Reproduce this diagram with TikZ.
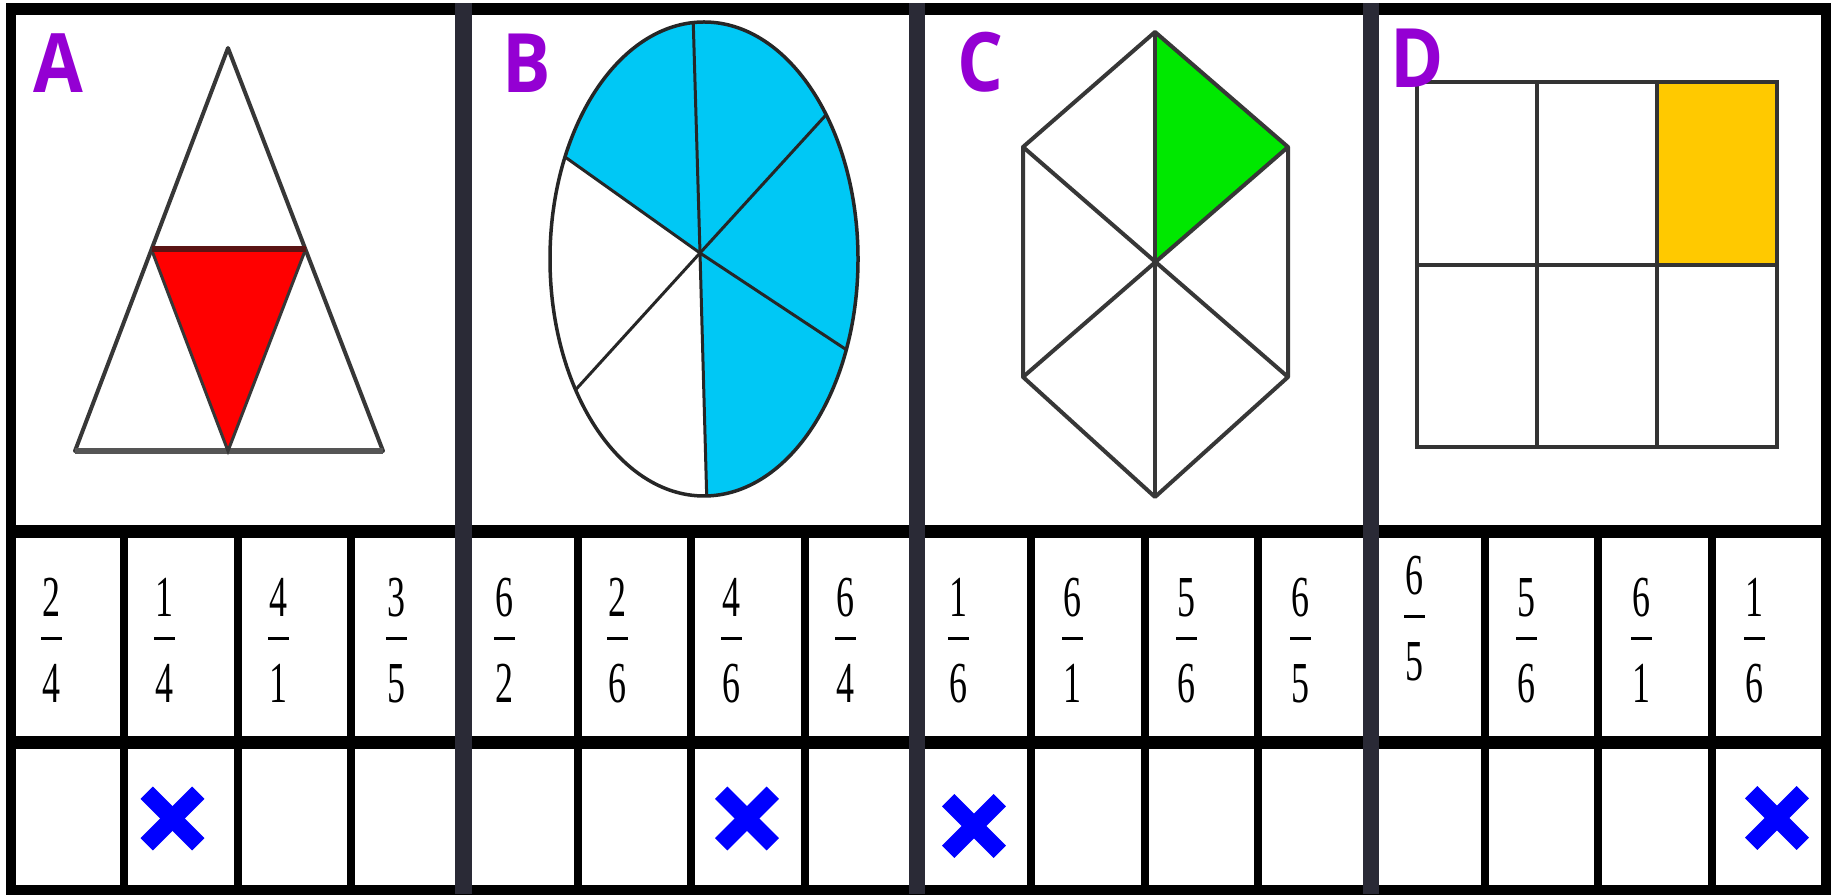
\documentclass[tikz,border=0pt]{standalone}
\usepackage{fontspec}
\setmainfont{Liberation Serif}
\newfontfamily\letfont{Open Sans}
\definecolor{lettc}{RGB}{148,0,211}
\definecolor{divc}{RGB}{42,42,54}
\definecolor{skyfill}{RGB}{0,200,245}
\definecolor{greenfill}{RGB}{0,232,0}
\definecolor{yellowfill}{RGB}{255,201,0}
\definecolor{redfill}{RGB}{255,0,0}
\definecolor{shapeline}{RGB}{55,55,55}
\definecolor{redline}{RGB}{90,20,20}
\definecolor{xblue}{RGB}{0,0,255}
\newcommand\myfrac[5]{%
  \node[digit] (#1n) at (#2,{277+#3}) {\scalebox{0.62}[1]{#4}};
  \node[fbar] (#1b) at (#2,{255.5+#3}) {};
  \node[digit] (#1d) at (#2,{191+#3}) {\scalebox{0.62}[1]{#5}};
}
\newcommand\myxmark[3]{%
  \coordinate (#1) at (#2,#3);
  \draw[xline] (#1) ++(-25.8,-25.8) -- ++(51.6,51.6);
  \draw[xline] (#1) ++(-25.8,25.8) -- ++(51.6,-51.6);
}
\begin{document}
\begin{tikzpicture}[x=1pt,y=1pt,
  letter/.style={text=lettc, font=\letfont\bfseries\fontsize{82}{82}\selectfont, inner sep=0pt, anchor=base},
  digit/.style={font=\fontsize{58}{58}\selectfont, inner sep=0pt, anchor=base},
  fbar/.style={fill=black, inner sep=0pt, minimum width=21pt, minimum height=2.2pt},
  outline/.style={draw=shapeline, line width=4pt, line join=round},
  ellline/.style={draw=black!85, line width=3.5pt},
  gridline/.style={draw=black!80, line width=4.5pt},
  xline/.style={draw=xblue, line width=17.4pt, line cap=butt},
  band/.style={draw=black, line width=13pt},
  subdiv/.style={draw=black, line width=8pt},
  paneldiv/.style={draw=divc, line width=16.5pt}
]
\useasboundingbox (0,0) rectangle (1833,894);
\fill[white] (0,0) rectangle (1833,894);

% ---------- Panel A: triangle ----------
\coordinate (Aa) at (228,846);
\coordinate (Ab) at (75,443);
\coordinate (Ac) at (383,443);
\coordinate (Am1) at (151.5,644.5);
\coordinate (Am2) at (305.5,644.5);
\coordinate (Am3) at (228,443);
\fill[redfill] (Am1) -- (Am2) -- (Am3) -- cycle;
\draw[outline] (Aa) -- (Ab) -- (Ac) -- cycle;
\draw[draw=shapeline!85, line width=6pt] (Ab) -- (Ac);
\draw[draw=shapeline, line width=3pt] (Am1) -- (Am3) -- (Am2);
\draw[draw=redline, line width=6pt] (Am1) -- (Am2);

% ---------- Panel B: ellipse ----------
\coordinate (Bc) at (704,635);
\coordinate (Bh) at (700,641);
\path (Bc) ++(94:154pt and 237pt) coordinate (Be1);
\path (Bc) ++(37.5:154pt and 237pt) coordinate (Be2);
\path (Bc) ++(-22.5:154pt and 237pt) coordinate (Be3);
\path (Bc) ++(-89:154pt and 237pt) coordinate (Be4);
\path (Bc) ++(213.5:154pt and 237pt) coordinate (Be5);
\path (Bc) ++(154.5:154pt and 237pt) coordinate (Be6);
\fill[skyfill] (Bh) -- (Be4) arc[start angle=-89, end angle=154.5, x radius=154pt, y radius=237pt] -- cycle;
\draw[ellline] (Bc) ellipse [x radius=154pt, y radius=237pt];
\foreach \e in {Be1,Be2,Be3,Be4,Be5,Be6} \draw[draw=black!85, line width=3pt] (Bh) -- (\e);

% ---------- Panel C: hexagon ----------
\coordinate (Ct) at (1155,862);
\coordinate (Cur) at (1288,747);
\coordinate (Clr) at (1288,517);
\coordinate (Cb) at (1155,397);
\coordinate (Cll) at (1023,517);
\coordinate (Cul) at (1023,747);
\coordinate (Cc) at (1155,629.5);
\fill[greenfill] (Ct) -- (Cur) -- (Cc) -- cycle;
\draw[outline] (Ct) -- (Cur) -- (Clr) -- (Cb) -- (Cll) -- (Cul) -- cycle;
\draw[outline] (Ct) -- (Cb);
\draw[outline] (Cul) -- (Clr);
\draw[outline] (Cur) -- (Cll);

% ---------- Panel D: grid ----------
\fill[yellowfill] (1657,629) rectangle (1777,812);
\draw[gridline] (1417,447) rectangle (1777,812);
\draw[gridline] (1417,629) -- (1777,629);
\draw[gridline] (1537,447) -- (1537,812);
\draw[gridline] (1657,447) -- (1657,812);

% ---------- letters ----------
\node[letter] (labA) at (58.5,801) {\scalebox{0.88}[1]{A}};
\node[letter] (labB) at (527,801) {\scalebox{0.88}[1]{B}};
\node[letter] (labC) at (980,802) {\scalebox{0.88}[1]{C}};
\node[letter] (labD) at (1417.5,806) {\scalebox{0.88}[1]{D}};

% ---------- fractions ----------
\myfrac{fa1}{51.6}{0}{2}{4}
\myfrac{fa2}{164.9}{0}{1}{4}
\myfrac{fa3}{278.7}{0}{4}{1}
\myfrac{fa4}{396.6}{0}{3}{5}
\myfrac{fb1}{504.6}{0}{6}{2}
\myfrac{fb2}{617.8}{0}{2}{6}
\myfrac{fb3}{731.7}{0}{4}{6}
\myfrac{fb4}{845.5}{0}{6}{4}
\myfrac{fc1}{958.4}{0}{1}{6}
\myfrac{fc2}{1072.9}{0}{6}{1}
\myfrac{fc3}{1186.8}{0}{5}{6}
\myfrac{fc4}{1300.7}{0}{6}{5}
\myfrac{fd1}{1414}{22}{6}{5}
\myfrac{fd2}{1526}{0}{5}{6}
\myfrac{fd3}{1641}{0}{6}{1}
\myfrac{fd4}{1754.5}{0}{1}{6}

% ---------- crosses ----------
\myxmark{xa}{172.5}{75.5}
\myxmark{xb}{747}{75.5}
\myxmark{xc}{974}{68}
\myxmark{xd}{1777}{76}

% ---------- grid lines ----------
\draw[draw=black, line width=10pt] (11,4.5) rectangle (1826,884.8);
\draw[draw=black, line width=12pt] (6,885) -- (1831,885);
\draw[band] (11,362.5) -- (1826,362.5);
\draw[band] (11,151.5) -- (1826,151.5);
\foreach \x in {124,237.5,350.5,578,691,805,1031,1145,1258,1485,1598,1712}
  \draw[subdiv] (\x,362.5) -- (\x,4.5);
\foreach \x in {463.5,917,1371}
  \draw[paneldiv] (\x,0) -- (\x,891);
\end{tikzpicture}
\end{document}
